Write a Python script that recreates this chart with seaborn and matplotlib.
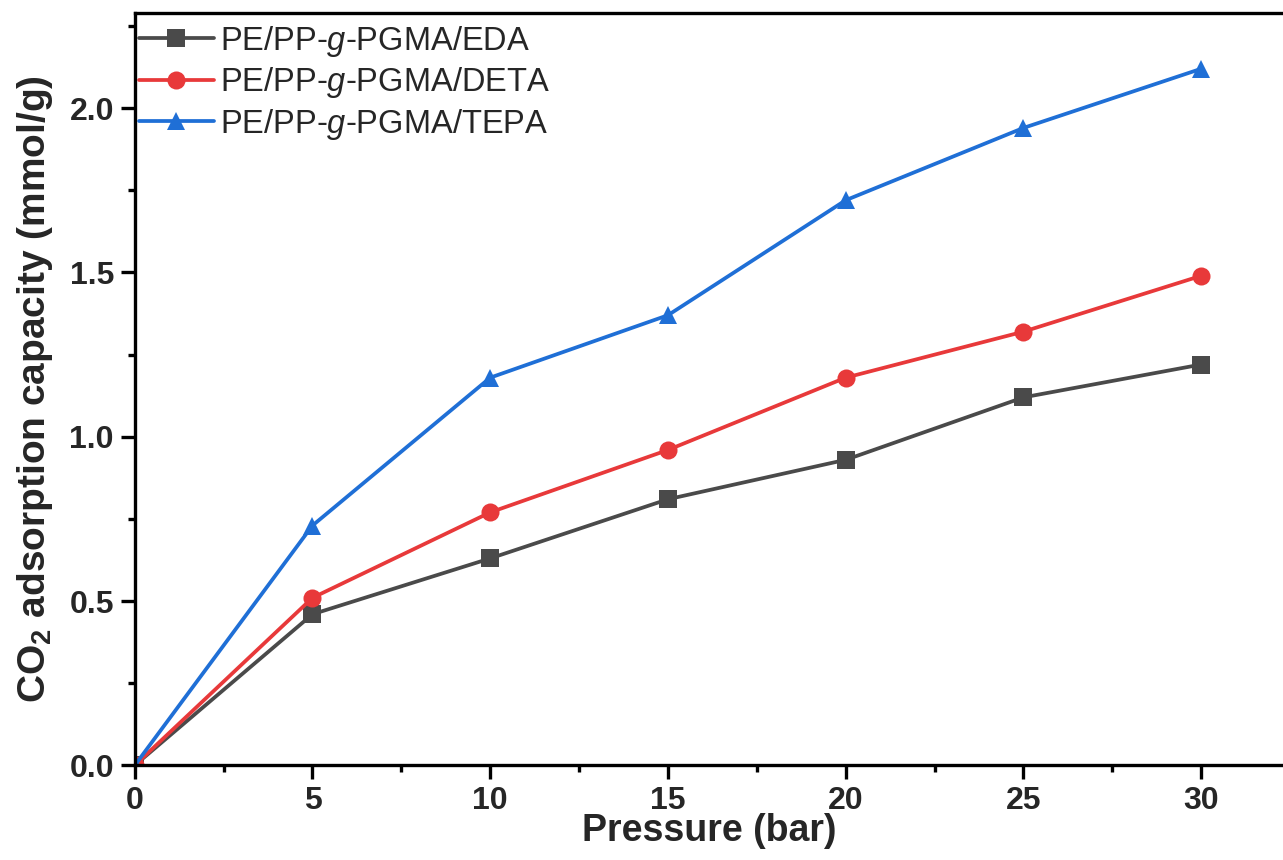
import numpy as np
import pandas as pd
import matplotlib
matplotlib.use("Agg")
import matplotlib.pyplot as plt
import seaborn as sns
from matplotlib.ticker import MultipleLocator

pressure = [0, 5, 10, 15, 20, 25, 30]
eda = [0.0, 0.46, 0.63, 0.81, 0.93, 1.12, 1.22]
deta = [0.0, 0.51, 0.77, 0.96, 1.18, 1.32, 1.49]
tepa = [0.0, 0.73, 1.18, 1.37, 1.72, 1.94, 2.12]
labels = ["PE/PP-$\\it{g}$-PGMA/EDA", "PE/PP-$\\it{g}$-PGMA/DETA", "PE/PP-$\\it{g}$-PGMA/TEPA"]
colors = ["#4a4a4a", "#e8393a", "#1f6fd6"]
markers = ["s", "o", "^"]

sns.set_theme(style="white")
plt.rcParams["font.family"] = ["Liberation Sans", "DejaVu Sans"]
plt.rcParams["mathtext.fontset"] = "custom"
plt.rcParams["mathtext.it"] = "Liberation Sans:italic"
plt.rcParams["mathtext.bf"] = "Liberation Sans:bold"
plt.rcParams["mathtext.rm"] = "Liberation Sans"

df = pd.concat([
    pd.DataFrame({"Pressure": pressure, "Capacity": vals, "Sample": lab})
    for vals, lab in zip([eda, deta, tepa], labels)
])

fig = plt.figure(figsize=(12.83, 8.6), dpi=100)
ax = fig.add_axes([0.105, 0.11, 0.895, 0.875])

sns.lineplot(data=df, x="Pressure", y="Capacity", hue="Sample", style="Sample",
             palette=dict(zip(labels, colors)), markers=dict(zip(labels, markers)),
             dashes=False, linewidth=2.7, markersize=13, markeredgewidth=0,
             ax=ax, legend=True)

ax.set_xlim(0, 32.3)
ax.set_ylim(0, 2.29)
ax.xaxis.set_major_locator(MultipleLocator(5))
ax.xaxis.set_minor_locator(MultipleLocator(2.5))
ax.yaxis.set_major_locator(MultipleLocator(0.5))
ax.yaxis.set_minor_locator(MultipleLocator(0.25))
ax.yaxis.set_major_formatter(matplotlib.ticker.FormatStrFormatter("%.1f"))

for side in ["left", "bottom", "top"]:
    ax.spines[side].set_visible(True)
    ax.spines[side].set_linewidth(2.4)
    ax.spines[side].set_color("black")
ax.spines["right"].set_visible(False)

ax.tick_params(which="major", direction="out", length=10, width=2.4, color="black",
               labelsize=23, pad=5, bottom=True, left=True, top=False, right=False)
ax.tick_params(which="minor", direction="out", length=5, width=2.4, color="black",
               bottom=True, left=True, top=False, right=False)
for lab in ax.get_xticklabels() + ax.get_yticklabels():
    lab.set_fontweight("bold")

ax.set_xlabel("Pressure (bar)", fontsize=27, fontweight="bold", labelpad=-2)
ax.set_ylabel("CO$_\\mathbf{2}$ adsorption capacity (mmol/g)", fontsize=28,
              fontweight="bold", labelpad=10)

handles, labs = ax.get_legend_handles_labels()
ax.legend(handles, labs, loc="upper left", frameon=False, fontsize=23.5,
          handlelength=2.3, handletextpad=0.2, labelspacing=0.2,
          borderaxespad=0.0, bbox_to_anchor=(-0.008, 1.003))

fig.savefig("out.png", dpi=100)
